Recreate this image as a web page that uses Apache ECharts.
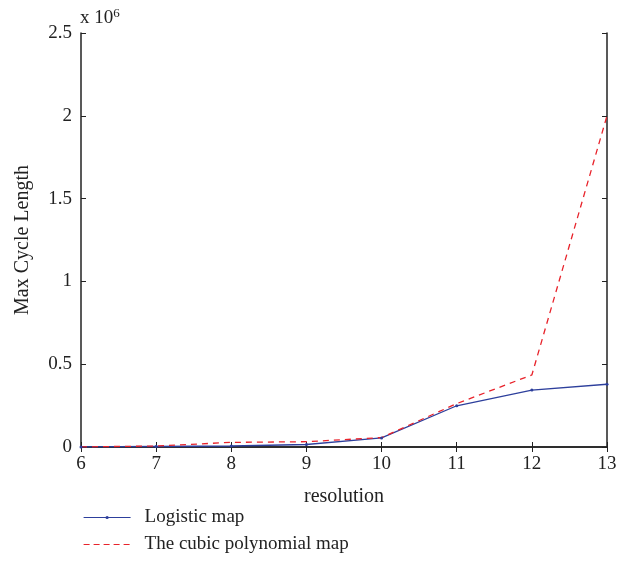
<!DOCTYPE html>
<html><head><meta charset="utf-8">
<script src="https://cdn.jsdelivr.net/npm/echarts@6/dist/echarts.min.js"></script>
<style>html,body{margin:0;padding:0;background:#fff}#c{width:624px;height:583px}</style>
</head><body><div id="c"></div>
<script>
const resolution = [6, 7, 8, 9, 10, 11, 12, 13];
const logisticMap = [0.0005, 0.003, 0.006, 0.015, 0.055, 0.249, 0.344, 0.379];
const cubicMap = [0.0005, 0.006, 0.028, 0.032, 0.057, 0.262, 0.435, 2.0];
const yTicks = [0, 0.5, 1, 1.5, 2, 2.5];
const seriesNames = ['Logistic map', 'The cubic polynomial map'];

const font = 'Liberation Serif';
const blue = '#2d3f9c', red = '#e8232b';
const chart = echarts.init(document.getElementById('c'));
const axisCommon = {
  axisLine: {show: true, lineStyle: {color: '#222', width: 1.5}},
  axisTick: {show: true, inside: true, length: 5, lineStyle: {color: '#222'}},
  splitLine: {show: false}
};
chart.setOption({
  animation: false,
  grid: {left: 81, right: 17, top: 33, bottom: 136},
  legend: {
    orient: 'vertical', left: 78, top: 503, itemWidth: 47, itemHeight: 4, itemGap: 8,
    textStyle: {fontFamily: font, fontSize: 19, color: '#222', padding: [0, 0, 0, 9]},
    data: [
      {name: seriesNames[0], lineStyle: {width: 1.2, color: blue}},
      {name: seriesNames[1], itemStyle: {opacity: 0}, lineStyle: {width: 1.2, color: red, type: [6, 4]}}
    ]
  },
  graphic: [{
    type: 'text', left: 80, top: 7,
    style: {
      rich: {
        a: {fontFamily: font, fontSize: 19, fill: '#222'},
        s: {fontFamily: font, fontSize: 13, fill: '#222', verticalAlign: 'top', padding: [0, 0, 10, 0]}
      },
      text: '{a|x 10}{s|6}'
    }
  }],
  xAxis: [
    Object.assign({type: 'value', min: 6, max: 13, interval: 1, name: 'resolution', nameLocation: 'middle', nameGap: 40,
      nameTextStyle: {fontFamily: font, fontSize: 20, color: '#222'},
      axisLabel: {fontFamily: font, fontSize: 19, color: '#222', margin: 8}}, axisCommon),
    Object.assign({type: 'value', min: 6, max: 13, interval: 1, position: 'top', axisLabel: {show: false}}, axisCommon)
  ],
  yAxis: [
    Object.assign({type: 'value', min: 0, max: 2.5, interval: 0.5, name: 'Max Cycle Length', nameLocation: 'middle', nameGap: 48,
      nameTextStyle: {fontFamily: font, fontSize: 20, color: '#222'},
      axisLabel: {fontFamily: font, fontSize: 19, color: '#222', margin: 9, formatter: v => String(v)}}, axisCommon),
    Object.assign({type: 'value', min: 0, max: 2.5, interval: 0.5, position: 'right', axisLabel: {show: false}}, axisCommon)
  ],
  series: [
    {name: seriesNames[0], type: 'line', data: resolution.map((x, i) => [x, logisticMap[i]]),
      symbol: 'circle', symbolSize: 3, showSymbol: true,
      itemStyle: {color: blue}, lineStyle: {color: blue, width: 1.3}},
    {name: seriesNames[1], type: 'line', data: resolution.map((x, i) => [x, cubicMap[i]]),
      symbol: 'none',
      itemStyle: {color: red}, lineStyle: {color: red, width: 1.3, type: [6, 5]}}
  ]
});
</script></body></html>
